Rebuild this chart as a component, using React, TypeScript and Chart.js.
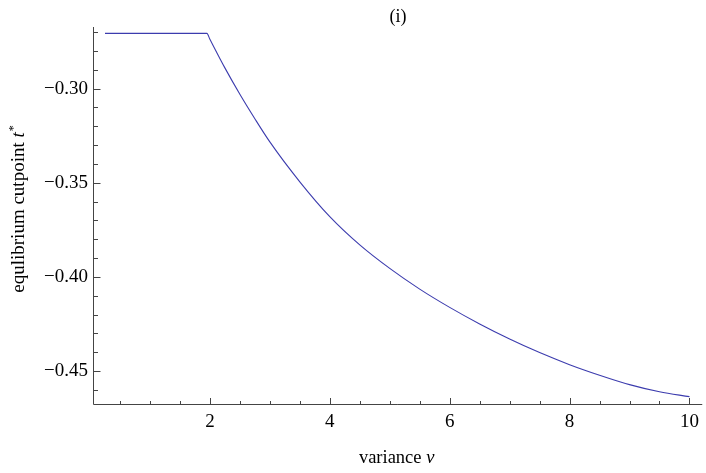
import { useEffect, useRef } from 'react';
import { Chart, registerables } from 'chart.js';

Chart.register(...registerables);

// variance ν
const variance = [0.25, 1.95, 2.0, 2.25, 2.5, 2.75, 3.0, 3.5, 4.0, 4.5, 5.0, 5.5, 6.0, 6.5, 7.0, 7.5, 8.0, 8.5, 9.0, 9.5, 10.0];
// equilibrium cutpoint t*
const cutpoint = [-0.2707, -0.2707, -0.2738, -0.289, -0.303, -0.316, -0.3283, -0.3495, -0.368, -0.383, -0.3955, -0.4065, -0.4162, -0.425, -0.433, -0.4402, -0.4466, -0.4522, -0.4572, -0.461, -0.4636];

const xTickLabels = [2, 4, 6, 8, 10];
const yTickLabels = [-0.45, -0.4, -0.35, -0.3];

const xMinorTicks: number[] = [];
for (let i = 1; i <= 20; i++) xMinorTicks.push(i * 0.5);
const yMinorTicks: number[] = [];
for (let i = 27; i <= 46; i++) yMinorTicks.push(-i / 100);

const FONT = '"Liberation Serif", "DejaVu Serif", serif';
const AXIS = '#444';

const axesPlugin = {
  id: 'mmaAxes',
  afterDraw(chart: any) {
    const { ctx, chartArea, scales } = chart;
    const xs = scales.x;
    const ys = scales.y;
    ctx.save();
    ctx.strokeStyle = AXIS;
    ctx.lineWidth = 1;
    const y0 = Math.round(chartArea.bottom) + 0.5;
    const x0 = Math.round(chartArea.left) + 0.5;
    ctx.beginPath();
    ctx.moveTo(x0, y0);
    ctx.lineTo(chartArea.right + 2, y0);
    ctx.moveTo(x0, chartArea.top);
    ctx.lineTo(x0, y0);
    // x ticks
    xMinorTicks.forEach((v) => {
      const px = Math.round(xs.getPixelForValue(v)) + 0.5;
      const major = Math.abs(v / 2 - Math.round(v / 2)) < 1e-6;
      const len = major ? 6.5 : 3.5;
      ctx.moveTo(px, y0);
      ctx.lineTo(px, y0 - len);
    });
    // y ticks
    yMinorTicks.forEach((v) => {
      const py = Math.round(ys.getPixelForValue(v)) + 0.5;
      const major = Math.abs(v * 20 - Math.round(v * 20)) < 1e-6;
      const len = major ? 7 : 4.5;
      ctx.moveTo(x0, py);
      ctx.lineTo(x0 + len, py);
    });
    ctx.stroke();

    ctx.fillStyle = '#000';
    // title
    ctx.font = `18px ${FONT}`;
    ctx.textAlign = 'center';
    ctx.textBaseline = 'alphabetic';
    ctx.fillText('(i)', 398, 22);

    // x title: variance ν
    const xt1 = 'variance ';
    const xt2 = 'ν';
    ctx.font = `18.5px ${FONT}`;
    const w1 = ctx.measureText(xt1).width;
    ctx.font = `italic 18.5px ${FONT}`;
    const w2 = ctx.measureText(xt2).width;
    const cx = (chartArea.left + chartArea.right) / 2;
    const sx = cx - (w1 + w2) / 2;
    ctx.textAlign = 'left';
    ctx.font = `18.5px ${FONT}`;
    ctx.fillText(xt1, sx, 463);
    ctx.font = `italic 18.5px ${FONT}`;
    ctx.fillText(xt2, sx + w1, 463);

    // y title: equlibrium cutpoint t*
    const yt1 = 'equlibrium cutpoint ';
    const yt2 = 't';
    const yt3 = '*';
    ctx.font = `19px ${FONT}`;
    const a1 = ctx.measureText(yt1).width;
    ctx.font = `italic 19px ${FONT}`;
    const a2 = ctx.measureText(yt2).width;
    ctx.font = `12px ${FONT}`;
    const a3 = ctx.measureText(yt3).width;
    const total = a1 + a2 + a3 + 1;
    ctx.translate(24, 209);
    ctx.rotate(-Math.PI / 2);
    let tx = -total / 2;
    ctx.font = `19px ${FONT}`;
    ctx.fillText(yt1, tx, 0);
    tx += a1;
    ctx.font = `italic 19px ${FONT}`;
    ctx.fillText(yt2, tx, 0);
    tx += a2 + 1;
    ctx.font = `12px ${FONT}`;
    ctx.fillText(yt3, tx, -7);
    ctx.restore();
  },
};

export default function App() {
  const ref = useRef<HTMLCanvasElement | null>(null);
  useEffect(() => {
    if (!ref.current) return;
    const chart = new Chart(ref.current, {
      type: 'line',
      data: {
        datasets: [
          {
            data: variance.map((v, i) => ({ x: v, y: cutpoint[i] })),
            borderColor: '#3c3cae',
            borderWidth: 1.1,
            pointRadius: 0,
            fill: false,
            cubicInterpolationMode: 'monotone',
          },
        ],
      },
      options: {
        responsive: false,
        animation: false,
        events: [],
        layout: { padding: { top: 27, right: 2, left: 0, bottom: 0 } },
        plugins: { legend: { display: false }, tooltip: { enabled: false }, title: { display: false } },
        scales: {
          x: {
            type: 'linear',
            min: 0.05,
            max: 10.18,
            grid: { display: false, drawTicks: false },
            border: { display: false },
            afterBuildTicks: (s: any) => {
              s.ticks = xTickLabels.map((v) => ({ value: v }));
            },
            afterFit: (s: any) => {
              s.height = 69;
            },
            ticks: {
              padding: 7,
              color: '#000',
              font: { family: FONT, size: 19 },
              maxRotation: 0,
              autoSkip: false,
              callback: (v: any) => String(v),
            },
          },
          y: {
            type: 'linear',
            min: -0.4675,
            max: -0.2673,
            grid: { display: false, drawTicks: false },
            border: { display: false },
            afterBuildTicks: (s: any) => {
              s.ticks = yTickLabels.map((v) => ({ value: v }));
            },
            afterFit: (s: any) => {
              s.width = 93;
            },
            ticks: {
              padding: 5,
              color: '#000',
              font: { family: FONT, size: 19 },
              autoSkip: false,
              callback: (v: any) => (Number(v) < 0 ? '\u2212' : '') + Math.abs(Number(v)).toFixed(2),
            },
          },
        },
      },
      plugins: [axesPlugin],
    });
    return () => chart.destroy();
  }, []);
  return (
    <div style={{ position: 'absolute', left: 0, top: 0, width: 706, height: 473, background: '#fff' }}>
      <canvas ref={ref} width={706} height={473} />
    </div>
  );
}
